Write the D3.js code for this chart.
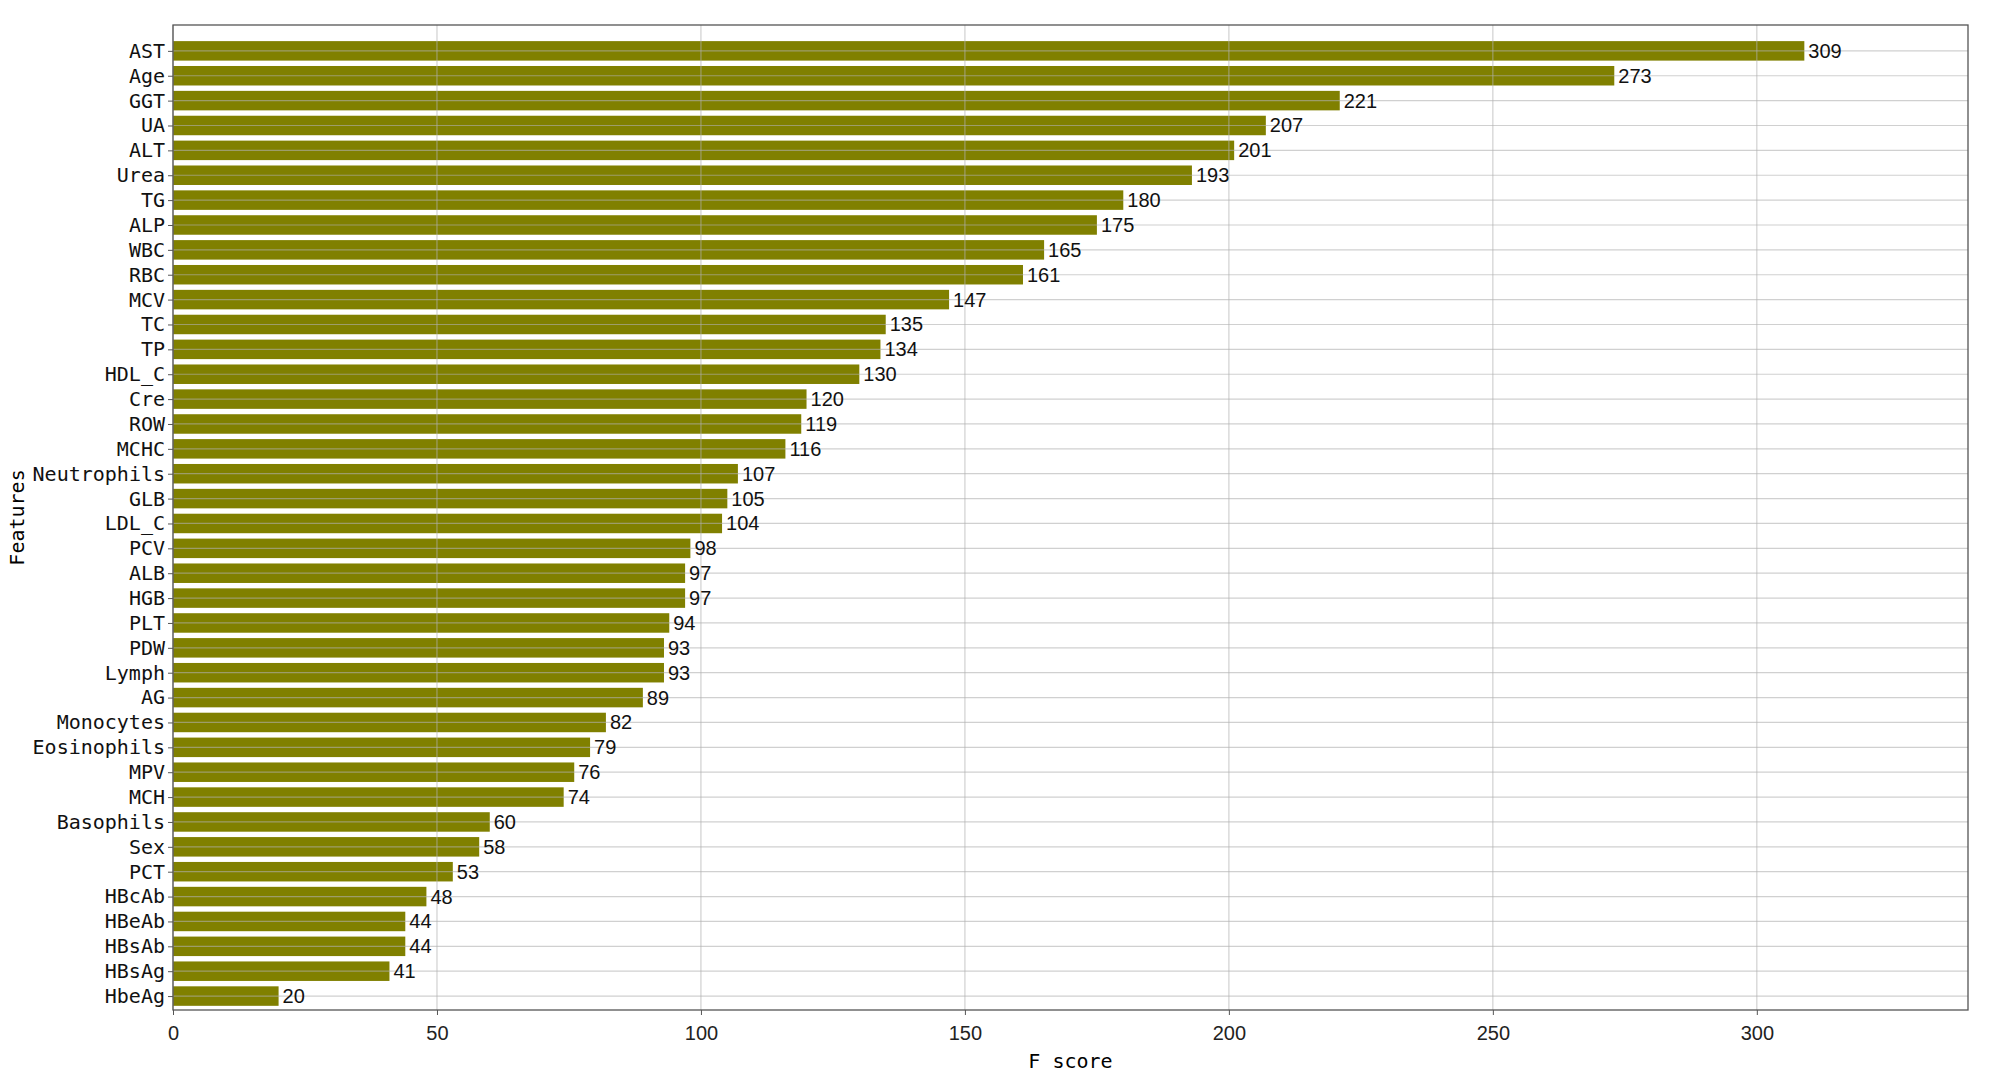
<!DOCTYPE html><html><head><meta charset="utf-8">
<script src="https://d3js.org/d3.v7.min.js"></script>
<style>body{margin:0;background:#fff}</style></head><body>
<svg id="c" width="2000" height="1078"></svg>
<script>
const features=["AST","Age","GGT","UA","ALT","Urea","TG","ALP","WBC","RBC","MCV","TC","TP","HDL_C","Cre","ROW","MCHC","Neutrophils","GLB","LDL_C","PCV","ALB","HGB","PLT","PDW","Lymph","AG","Monocytes","Eosinophils","MPV","MCH","Basophils","Sex","PCT","HBcAb","HBeAb","HBsAb","HBsAg","HbeAg"];
const scores=[309,273,221,207,201,193,180,175,165,161,147,135,134,130,120,119,116,107,105,104,98,97,97,94,93,93,89,82,79,76,74,60,58,53,48,44,44,41,20];
const xTicks=[0,50,100,150,200,250,300];
const L=173,R=1968,T=25,B=1010;
const svg=d3.select("#c");
const x=d3.scaleLinear().domain([0,340]).range([L,R]);
const y=d3.scaleLinear().domain([-1.04,38.56]).range([T,B]);
const bh=19.5;
const mono="'DejaVu Sans Mono',monospace";
svg.selectAll("rect.b").data(features).enter().append("rect")
 .attr("x",x(0)).attr("y",(d,i)=>y(i)-bh/2).attr("height",bh)
 .attr("width",(d,i)=>x(scores[i])-x(0)).attr("fill","#808000");
// grid
const g=svg.append("g").attr("stroke","#b0b0b0").attr("stroke-opacity",0.6).attr("stroke-width",1.2);
xTicks.forEach(t=>g.append("line").attr("x1",x(t)).attr("x2",x(t)).attr("y1",T).attr("y2",B));
features.forEach((f,i)=>g.append("line").attr("x1",L).attr("x2",R).attr("y1",y(i)).attr("y2",y(i)));
// frame
svg.append("rect").attr("x",L).attr("y",T).attr("width",R-L).attr("height",B-T).attr("fill","none").attr("stroke","#555").attr("stroke-width",1.3);
// x axis
const xa=svg.append("g").attr("transform",`translate(0,${B})`).call(d3.axisBottom(x).tickValues(xTicks).tickSize(5).tickSizeOuter(0));
xa.select(".domain").remove();
xa.selectAll("text").attr("font-family","'Liberation Sans',Arial,sans-serif").attr("font-size",20).attr("fill","#222").attr("dy","1.1em");
xa.selectAll("line").attr("stroke","#555");
// y axis
const ya=svg.append("g").attr("transform",`translate(${L},0)`).call(d3.axisLeft(y).tickValues(d3.range(features.length)).tickFormat(i=>features[i]).tickSize(5).tickSizeOuter(0));
ya.select(".domain").remove();
ya.selectAll("text").attr("font-family",mono).attr("font-size",20).attr("fill","#111");
ya.selectAll("line").attr("stroke","#555");
// value labels
svg.selectAll("text.v").data(scores).enter().append("text")
 .attr("x",d=>x(d)+4).attr("y",(d,i)=>y(i)).attr("dy","0.35em")
 .attr("font-family","'Liberation Sans',Arial,sans-serif").attr("font-size",20).attr("fill","#111").text(d=>d);
svg.append("text").attr("x",(L+R)/2).attr("y",1068).attr("text-anchor","middle").attr("font-family",mono).attr("font-size",20).text("F score");
svg.append("text").attr("transform",`translate(24,${(T+B)/2}) rotate(-90)`).attr("text-anchor","middle").attr("font-family",mono).attr("font-size",20).text("Features");
</script></body></html>
